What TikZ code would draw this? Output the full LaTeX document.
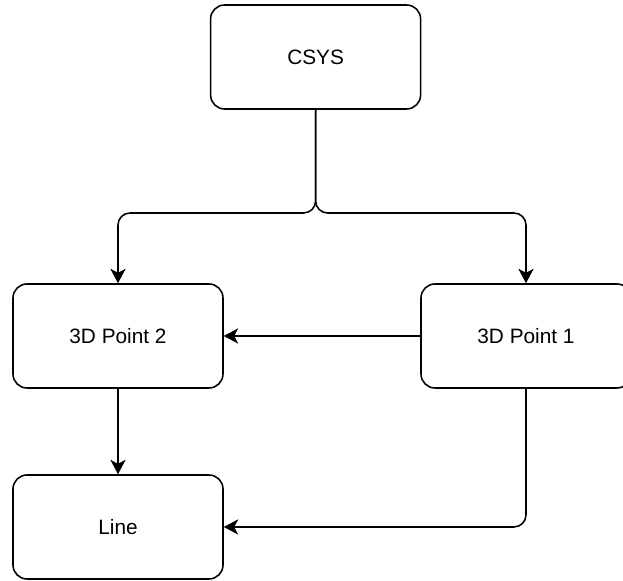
\documentclass[tikz,border=0pt]{standalone}
\usepackage{fontspec}
\setmainfont{Liberation Sans}
\usetikzlibrary{arrows.meta}
\tikzset{
    box/.style={draw, rectangle, rounded corners=0.35cm, line width=1.1pt, minimum width=5.25cm, minimum height=2.6cm, inner sep=0pt, font=\fontsize{14.8}{17}\selectfont},
    >={Stealth[length=0.36cm, width=0.38cm, inset=0.1cm]}
}

\begin{document}
\begin{tikzpicture}[line width=1.1pt]
    \useasboundingbox (0,0) rectangle (15.575,14.525);
    \clip (0,0) rectangle (15.575,14.525);

    \node[box] (csys) at (7.89, 13.1) {CSYS};
    \node[box] (p2) at (2.95, 6.125) {3D Point 2};
    \node[box] (p1) at (13.15, 6.125) {3D Point 1};
    \node[box] (line) at (2.95, 1.35) {Line};

    \coordinate (split) at (7.89, 9.2);

    \draw[->, rounded corners=0.3cm] (csys.south) -- (split) -| (p2.north);
    \draw[->, rounded corners=0.3cm] (csys.south) -- (split) -| (p1.north);
    \draw[->] (p1.west) -- (p2.east);
    \draw[->] (p2.south) -- (line.north);
    \draw[->, rounded corners=0.3cm] (p1.south) |- (line.east);
\end{tikzpicture}
\end{document}
